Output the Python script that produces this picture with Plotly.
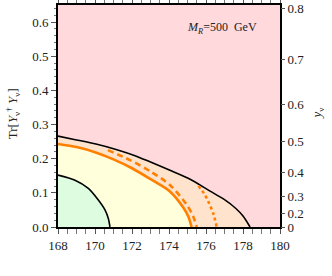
import plotly.graph_objects as go

# curves: x = m_t (GeV), y = Tr[Y^dagger Y]
black_x = [168.0, 169.0, 170.05, 171.14, 172.2, 173.0, 174.05, 175.14, 176.22, 177.0, 177.6, 178.0, 178.38]
black_y = [0.266, 0.255, 0.243, 0.227, 0.208, 0.190, 0.166, 0.140, 0.105, 0.080, 0.055, 0.032, 0.0]

solid_x = [168.0, 169.0, 170.0, 171.0, 172.0, 173.0, 174.05, 174.77, 175.05, 175.22]
solid_y = [0.243, 0.234, 0.219, 0.198, 0.172, 0.140, 0.104, 0.057, 0.030, 0.0]

dash_x = [170.7, 171.89, 172.97, 174.05, 174.95, 175.3, 175.5]
dash_y = [0.225, 0.196, 0.164, 0.123, 0.066, 0.032, 0.0]

dot_x = [175.59, 175.9, 176.12, 176.4, 176.58]
dot_y = [0.120, 0.098, 0.075, 0.038, 0.0]

green_x = [168.0, 168.92, 169.64, 170.18, 170.54, 170.72, 170.81]
green_y = [0.152, 0.137, 0.113, 0.079, 0.050, 0.025, 0.0]

x_ticks = [168, 170, 172, 174, 176, 178, 180]
y_ticks = [0.0, 0.1, 0.2, 0.3, 0.4, 0.5, 0.6]
ynu_ticks = [0, 0.2, 0.3, 0.4, 0.5, 0.6, 0.7, 0.8]

PINK = "#FFD9DB"
PEACH = "#FFE3CC"
YELLOW = "#FFFFDC"
GREEN = "#DEFDE0"
ORANGE = "#FF8000"
FONT = "Liberation Serif, Times New Roman, serif"

fig = go.Figure()
fig.add_trace(go.Scatter(x=black_x, y=black_y, mode="lines", fill="tozeroy", fillcolor=PEACH,
                         line=dict(color="black", width=1.6, shape="spline", smoothing=0.8)))
fig.add_trace(go.Scatter(x=solid_x, y=solid_y, mode="lines", fill="tozeroy", fillcolor=YELLOW,
                         line=dict(color=ORANGE, width=2.6, shape="spline", smoothing=0.8)))
fig.add_trace(go.Scatter(x=green_x, y=green_y, mode="lines", fill="tozeroy", fillcolor=GREEN,
                         line=dict(color="black", width=1.6, shape="spline", smoothing=0.8)))
fig.add_trace(go.Scatter(x=dash_x, y=dash_y, mode="lines",
                         line=dict(color=ORANGE, width=2.6, dash="6px,4px", shape="spline", smoothing=0.8)))
fig.add_trace(go.Scatter(x=dot_x, y=dot_y, mode="lines",
                         line=dict(color=ORANGE, width=2.6, dash="3px,3px", shape="spline", smoothing=0.8)))
# invisible trace so the right axis is drawn
fig.add_trace(go.Scatter(x=[168], y=[0], yaxis="y2", mode="markers", marker=dict(opacity=0),
                         hoverinfo="skip"))

fig.update_layout(
    width=332, height=276,
    margin=dict(l=58, r=52, t=5, b=49),
    paper_bgcolor="white", plot_bgcolor=PINK,
    showlegend=False,
    font=dict(family=FONT, size=12, color="#222"),
    xaxis=dict(range=[168, 180], tickvals=x_ticks, ticks="outside", ticklen=5, automargin=False,
               showgrid=False, zeroline=False, showline=True, linecolor="black", linewidth=1.8,
               mirror="allticks", tickcolor="#555",
               minor=dict(dtick=0.5, ticks="outside", ticklen=2.5, tickcolor="#777"),
               tickfont=dict(family=FONT, size=13)),
    yaxis=dict(range=[0, 0.65], tickvals=y_ticks, tickformat=".1f", ticks="outside", ticklen=5,
               automargin=False, showgrid=False, zeroline=False, showline=True,
               linecolor="black", linewidth=1.8, mirror=True, tickcolor="#555",
               minor=dict(dtick=0.02, ticks="outside", ticklen=2.5, tickcolor="#777"),
               tickfont=dict(family=FONT, size=13)),
    yaxis2=dict(range=[0, 0.65], overlaying="y", side="right", automargin=False,
                tickvals=[v ** 2 for v in ynu_ticks], ticktext=[str(v) for v in ynu_ticks],
                ticks="outside", ticklen=4, tickcolor="#555", showgrid=False, zeroline=False,
                tickfont=dict(family=FONT, size=13)),
)

fig.add_annotation(text="Tr[<i>Y</i><sub>ν</sub><sup>†</sup> <i>Y</i><sub>ν</sub>]",
                   xref="paper", yref="paper", x=-0.205, y=0.51, xanchor="center", yanchor="middle",
                   textangle=-90, showarrow=False, font=dict(family=FONT, size=13))
fig.add_annotation(text="<i>y</i><sub>ν</sub>", xref="paper", yref="paper", x=1.17, y=0.51,
                   xanchor="center", yanchor="middle",
                   textangle=-90, showarrow=False, font=dict(family=FONT, size=13))
fig.add_annotation(text="<i>M</i><sub><i>R</i></sub>=500  GeV", x=176.86, y=0.582,
                   showarrow=False, font=dict(family=FONT, size=12))

# the page body has a default 8px margin; drop it so the figure sits at the corner
fig.write_html("out.html", config={"displayModeBar": False},
               post_script="document.body.style.margin='0';")
